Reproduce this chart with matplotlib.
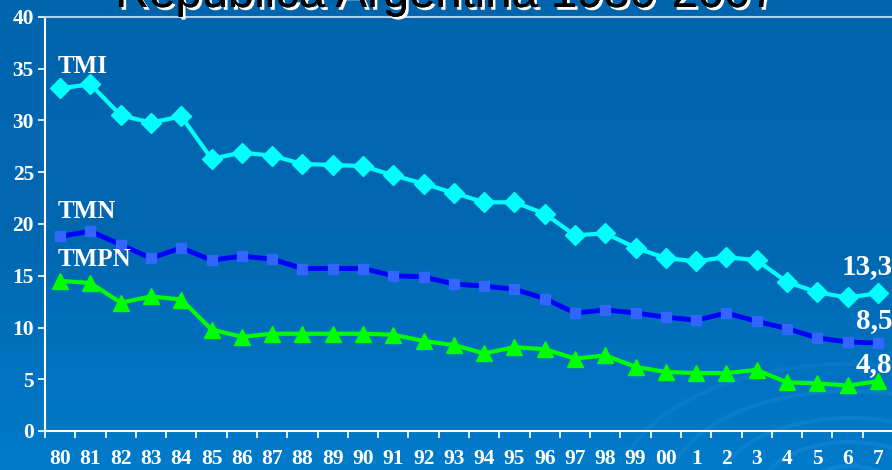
import matplotlib
matplotlib.use("Agg")
import matplotlib.pyplot as plt
import numpy as np
import matplotlib.patheffects as pe
from matplotlib.patches import Arc

# data
years = ["80", "81", "82", "83", "84", "85", "86", "87", "88", "89",
         "90", "91", "92", "93", "94", "95", "96", "97", "98", "99",
         "00", "1", "2", "3", "4", "5", "6", "7"]
tmi = [33.1, 33.5, 30.5, 29.8, 30.4, 26.3, 26.9, 26.6, 25.8, 25.7,
       25.6, 24.7, 23.9, 23.0, 22.1, 22.1, 21.0, 18.9, 19.1, 17.7,
       16.7, 16.4, 16.8, 16.5, 14.4, 13.4, 12.9, 13.3]
tmn = [18.8, 19.3, 18.0, 16.7, 17.7, 16.5, 16.9, 16.6, 15.7, 15.7,
       15.7, 15.0, 14.9, 14.2, 14.0, 13.7, 12.8, 11.4, 11.7, 11.4,
       11.0, 10.7, 11.4, 10.6, 9.9, 9.0, 8.6, 8.5]
tmpn = [14.5, 14.3, 12.4, 13.0, 12.7, 9.8, 9.1, 9.4, 9.4, 9.4,
        9.4, 9.3, 8.7, 8.3, 7.5, 8.1, 7.9, 7.0, 7.3, 6.2,
        5.7, 5.6, 5.6, 5.9, 4.7, 4.6, 4.4, 4.8]
end_labels = ["13,3", "8,5", "4,8"]

serif = ["Liberation Serif", "DejaVu Serif"]
white = "white"

fig = plt.figure(figsize=(8.92, 4.70), dpi=100)

# gradient background + faint swirl
bg = fig.add_axes([0, 0, 1, 1])
grad = np.linspace(0, 1, 256).reshape(-1, 1)
cmap = matplotlib.colors.LinearSegmentedColormap.from_list("bg", ["#0065ad", "#0067b1", "#007bca"])
bg.imshow(grad, aspect="auto", cmap=cmap, extent=[0, 892, 0, 470], origin="upper")
for r, a in [(40, 0.35), (80, 0.3), (120, 0.28), (165, 0.25), (210, 0.2)]:
    bg.add_patch(Arc((850, -20), 2.2 * r, 1.2 * r, theta1=20, theta2=170,
                     color="#2a95e0", lw=3, alpha=a))
bg.set_xlim(0, 892)
bg.set_ylim(0, 470)
bg.axis("off")

ax = fig.add_axes([45 / 892, 39 / 470, 848 / 892, 414 / 470])
ax.patch.set_alpha(0)

x = np.arange(len(years))
ax.plot(x, tmi, color="#00ffff", lw=3, marker="D", ms=10, mfc="#00ffff", mec="#00ffff", zorder=3)
ax.plot(x, tmn, color="#0000ff", lw=3.5, marker="s", ms=6.5, mfc="#3366ff", mec="#3366ff", zorder=3)
ax.plot(x, tmpn, color="#00ff00", lw=3, marker="^", ms=11, mfc="#00ff00", mec="#00ff00", zorder=3)

ax.set_xlim(-0.5, len(years) - 0.5)
ax.set_ylim(0, 40)
ax.set_yticks(np.arange(0, 41, 5))
ax.set_xticks(np.arange(-0.5, len(years), 1))
ax.set_xticklabels([])
ax.set_xticks(x, minor=True)
ax.set_xticklabels(years, minor=True)
ax.tick_params(axis="x", which="major", direction="out", length=5, width=1.2, colors=white)
ax.tick_params(axis="x", which="minor", length=0, pad=13, labelcolor=white, labelsize=15.5)
ax.tick_params(axis="y", direction="out", length=5, width=1.2, colors=white, labelsize=15.5, pad=3)
for lab in ax.get_xticklabels(minor=True) + ax.get_yticklabels():
    lab.set_family(serif)
    lab.set_fontweight("bold")

ax.spines["left"].set_color(white)
ax.spines["left"].set_linewidth(1.5)
ax.spines["bottom"].set_color(white)
ax.spines["bottom"].set_linewidth(1.5)
ax.spines["top"].set_color("#a9d2ef")
ax.spines["top"].set_linewidth(1.5)
ax.spines["right"].set_visible(False)

# series names
lab_kw = dict(color=white, fontsize=18, fontweight="bold", family=serif, va="center", ha="left")
ax.text(-0.08, 35.2, "TMI", **lab_kw)
ax.text(-0.08, 21.2, "TMN", **lab_kw)
ax.text(-0.08, 16.6, "TMPN", **lab_kw)

# last-value labels
end_kw = dict(color=white, fontsize=21, fontweight="bold", family=serif, va="center", ha="right")
ax.text(len(years) - 0.52, 15.9, end_labels[0], **end_kw)
ax.text(len(years) - 0.52, 10.7, end_labels[1], **end_kw)
ax.text(len(years) - 0.52, 6.4, end_labels[2], **end_kw)

# title, cut off by the top edge as on the slide
fig.text(0.129, 1 - 7 / 470, "República Argentina 1980-2007", fontsize=34,
         family=["Liberation Sans", "DejaVu Sans"], color="black", ha="left", va="baseline",
         path_effects=[pe.withSimplePatchShadow(offset=(2, -2), shadow_rgbFace="white", alpha=1),
                       pe.Normal()])

fig.savefig("out.png", dpi=100)
